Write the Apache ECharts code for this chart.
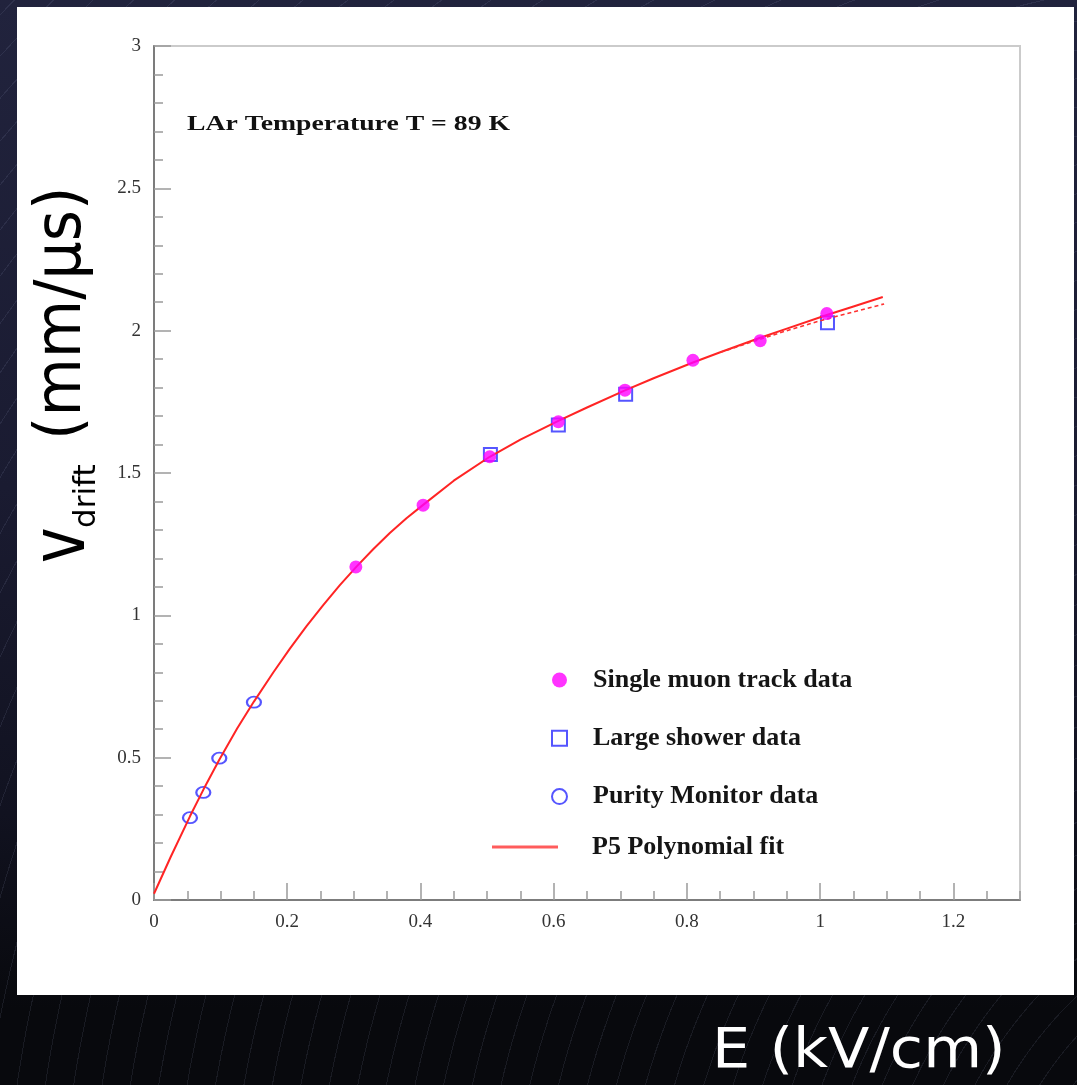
<!DOCTYPE html>
<html>
<head>
<meta charset="utf-8">
<title>Drift velocity vs field in LAr</title>
<script src="https://cdn.jsdelivr.net/npm/echarts@6/dist/echarts.min.js"></script>
<style>
  html, body { margin: 0; padding: 0; }
  body {
    width: 1077px; height: 1085px; overflow: hidden;
    background:
      repeating-radial-gradient(circle at 125% 118%, rgba(255,255,255,0) 0 27px, rgba(170,180,220,0.10) 27px 28px),
      linear-gradient(180deg, #21233d 0%, #1a1b31 45%, #111220 75%, #08090d 93%);
  }
  #chart { width: 1077px; height: 1085px; }
</style>
</head>
<body>
<div id="chart"></div>
<script>
// Electric field E (kV/cm) and drift velocity (mm/us)
const muonE   = [0.303, 0.404, 0.504, 0.607, 0.707, 0.809, 0.910, 1.010];
const muonV   = [1.170, 1.387, 1.557, 1.680, 1.791, 1.896, 1.965, 2.060];

const showerE = [0.505, 0.607, 0.708, 1.011];
const showerV = [1.565, 1.669, 1.777, 2.028];

const purityE = [0.054, 0.074, 0.098, 0.150];
const purityV = [0.289, 0.378, 0.498, 0.695];

// P5 polynomial fit, sampled along the curve
const fitE = [0, 0.025, 0.054, 0.074, 0.098, 0.125, 0.150, 0.179, 0.204, 0.229, 0.254, 0.279, 0.304,
              0.329, 0.354, 0.379, 0.404, 0.450, 0.504, 0.550, 0.607, 0.650, 0.707, 0.750, 0.809,
              0.850, 0.910, 0.950, 1.010, 1.050, 1.094];
const fitV = [0.022, 0.151, 0.294, 0.387, 0.493, 0.603, 0.697, 0.799, 0.883, 0.962, 1.036, 1.106, 1.171,
              1.232, 1.289, 1.341, 1.388, 1.473, 1.557, 1.617, 1.683, 1.730, 1.790, 1.833, 1.888,
              1.924, 1.975, 2.007, 2.055, 2.085, 2.118];

// alternative fit, drawn dashed where it departs from the P5 curve
const altE = [0.850, 0.910, 0.950, 1.000, 1.050, 1.096];
const altV = [1.924, 1.970, 2.000, 2.035, 2.066, 2.094];

const legendScatter = ['Single muon track data', 'Large shower data', 'Purity Monitor data'];
const legendLine = ['P5 Polynomial fit'];

const zip = (xs, ys) => xs.map((x, i) => [x, ys[i]]);

const serif = "'Liberation Serif', 'Times New Roman', serif";
const sans = "'DejaVu Sans', Verdana, sans-serif";
const axisGrey = '#7c7c7c';
const tickStyle = { color: '#9a9a9a', width: 1.5 };
const labelStyle = { fontFamily: serif, fontSize: 19, color: '#333' };
const legendText = { fontFamily: serif, fontWeight: 'bold', fontSize: 26, color: '#151515', lineHeight: 24 };

const chart = echarts.init(document.getElementById('chart'), null, { renderer: 'canvas' });

chart.setOption({
  animation: false,
  backgroundColor: 'transparent',
  grid: {
    left: 154, right: 57, top: 46, bottom: 185,
    show: true, borderColor: '#cbcbcb', borderWidth: 2, backgroundColor: 'transparent',
    containLabel: false, outerBoundsMode: 'none'
  },
  xAxis: [
    {
      type: 'value', min: 0, max: 1.3, interval: 0.2, position: 'bottom',
      axisLine: { show: true, onZero: false, lineStyle: { color: axisGrey, width: 2 } },
      axisTick: { show: true, inside: true, length: 17, lineStyle: tickStyle },
      axisLabel: Object.assign({ margin: 13, showMaxLabel: false }, labelStyle),
      splitLine: { show: false }
    },
    {
      type: 'value', min: 0, max: 1.3, interval: 0.05, position: 'bottom',
      axisLine: { show: false, onZero: false },
      axisTick: { show: true, inside: true, length: 9, lineStyle: tickStyle },
      axisLabel: { show: false },
      splitLine: { show: false }
    }
  ],
  yAxis: {
    type: 'value', min: 0, max: 3, interval: 0.5,
    axisLine: { show: true, onZero: false, lineStyle: { color: axisGrey, width: 2 } },
    axisTick: { show: true, inside: true, length: 17, lineStyle: tickStyle },
    minorTick: { show: true, splitNumber: 5, length: 9, lineStyle: tickStyle },
    axisLabel: Object.assign({ margin: 13 }, labelStyle),
    splitLine: { show: false },
    minorSplitLine: { show: false }
  },
  legend: [
    {
      data: legendScatter, orient: 'vertical', left: 546, top: 662,
      itemWidth: 15, itemHeight: 15, itemGap: 32.3,
      selectedMode: false,
      textStyle: Object.assign({ padding: [0, 0, 0, 21] }, legendText)
    },
    {
      data: legendLine, orient: 'vertical', left: 487, top: 829,
      itemWidth: 66, itemHeight: 3, icon: 'rect',
      selectedMode: false,
      itemStyle: { color: '#ff5c5c' },
      textStyle: Object.assign({ padding: [0, 0, 0, 29] }, legendText)
    }
  ],
  graphic: [
    { type: 'rect', z: -10, silent: true,
      shape: { x: 17, y: 7, width: 1057, height: 988 }, style: { fill: '#ffffff' } },
    { type: 'text', silent: true, x: 187, y: 124, scaleX: 1.26,
      style: { text: 'LAr Temperature T = 89 K', fontFamily: serif, fontWeight: 'bold', fontSize: 22,
               fill: '#111', align: 'left', verticalAlign: 'middle' } },
    // y axis title: v_drift (mm/μs), reading upwards
    { type: 'text', silent: true, x: 65, y: 563, rotation: Math.PI / 2, scaleY: 1.25,
      style: { text: 'v', fontFamily: sans, fontSize: 60, fill: '#000', align: 'left', verticalAlign: 'middle' } },
    { type: 'text', silent: true, x: 87, y: 528, rotation: Math.PI / 2,
      style: { text: 'drift', fontFamily: sans, fontSize: 31, fill: '#000', align: 'left', verticalAlign: 'middle' } },
    { type: 'text', silent: true, x: 63, y: 440, rotation: Math.PI / 2, scaleY: 1.08,
      style: { text: '(mm/μs)', fontFamily: sans, fontSize: 60, fill: '#000', align: 'left', verticalAlign: 'middle' } },
    // x axis title
    { type: 'text', silent: true, x: 712, y: 1053, scaleX: 1.1,
      style: { text: 'E (kV/cm)', fontFamily: sans, fontSize: 55, fill: '#ffffff', align: 'left', verticalAlign: 'middle' } }
  ],
  series: [
    {
      name: 'Large shower data', type: 'scatter', xAxisIndex: 0,
      data: zip(showerE, showerV),
      symbol: 'emptyRect', symbolSize: 13,
      itemStyle: { color: '#2b2bff', borderColor: '#2b2bff', borderWidth: 2 },
      emphasis: { disabled: true }, z: 2
    },
    {
      name: 'Purity Monitor data', type: 'scatter', xAxisIndex: 0,
      data: zip(purityE, purityV),
      symbol: 'emptyCircle', symbolSize: [14, 11],
      itemStyle: { color: '#2b2bff', borderColor: '#2b2bff', borderWidth: 2 },
      emphasis: { disabled: true }, z: 2
    },
    {
      name: 'P5 Polynomial fit', type: 'line', xAxisIndex: 0,
      data: zip(fitE, fitV),
      symbol: 'none', smooth: false,
      lineStyle: { color: '#ff2424', width: 2 },
      itemStyle: { color: '#ff2424' },
      emphasis: { disabled: true }, z: 3
    },
    {
      name: 'alt fit', type: 'line', xAxisIndex: 0,
      data: zip(altE, altV),
      symbol: 'none', smooth: false,
      lineStyle: { color: '#ff3030', width: 1.6, type: [4, 3] },
      itemStyle: { color: '#ff3030' },
      emphasis: { disabled: true }, z: 3
    },
    {
      name: 'Single muon track data', type: 'scatter', xAxisIndex: 0,
      data: zip(muonE, muonV),
      symbol: 'circle', symbolSize: 13,
      itemStyle: { color: '#ff00ff' },
      emphasis: { disabled: true }, z: 4
    }
  ]
});
</script>
</body>
</html>
